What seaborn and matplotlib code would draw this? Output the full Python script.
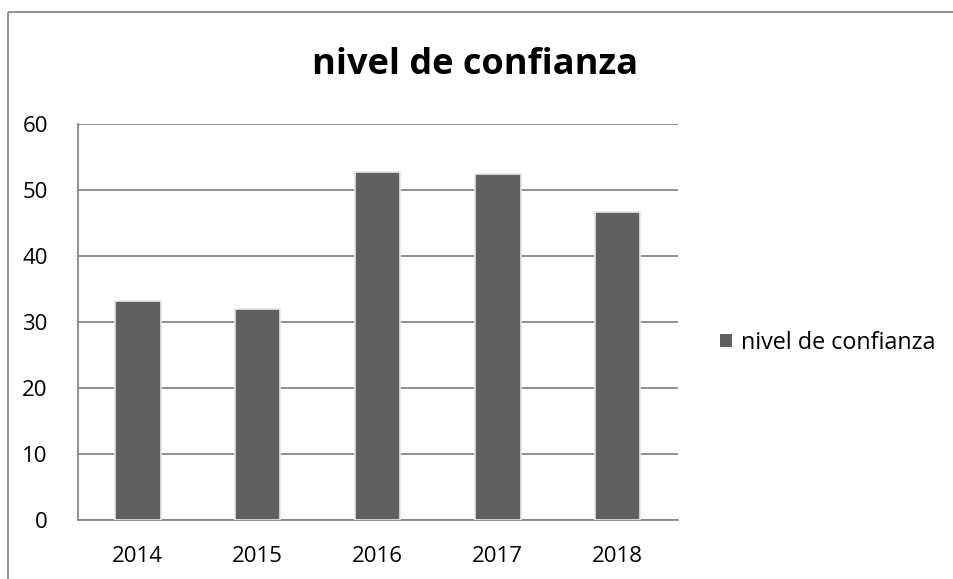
import numpy as np
import pandas as pd
import matplotlib
matplotlib.use("Agg")
import matplotlib.pyplot as plt
import seaborn as sns
from matplotlib.lines import Line2D
from matplotlib.patches import Patch

# Data
years = ["2014", "2015", "2016", "2017", "2018"]
values = [33.2, 32.0, 52.8, 52.4, 46.6]
series_name = "nivel de confianza"
y_ticks = [0, 10, 20, 30, 40, 50, 60]

df = pd.DataFrame({"year": years, "value": values})

sns.set_style("white")
plt.rcParams["font.family"] = ["Open Sans", "DejaVu Sans"]
plt.rcParams["text.color"] = "black"
plt.rcParams["xtick.color"] = "black"
plt.rcParams["ytick.color"] = "black"

bar_color = "#606060"
grid_color = "#888888"

fig = plt.figure(figsize=(9.54, 5.79), dpi=100)
fig.patch.set_facecolor("white")
fig.patch.set_edgecolor("white")
fig.patch.set_linewidth(0)
ax = fig.add_axes([77.7 / 954, 1 - 520 / 579, 600 / 954, 396 / 579])

sns.barplot(data=df, x="year", y="value", color=bar_color, width=0.38,
            saturation=1, ax=ax, zorder=3)

# bar outlines to mimic the soft light edge of the original
for p in ax.patches:
    p.set_edgecolor("#e8e8e8")
    p.set_linewidth(1.2)

ax.set_ylim(0, 60)
ax.set_xlim(-0.5, 4.5)
ax.set_yticks(y_ticks)
ax.yaxis.grid(True, color=grid_color, linewidth=1.3, zorder=0)
ax.set_axisbelow(True)
ax.set_xlabel("")
ax.set_ylabel("")

for side in ["top", "right"]:
    ax.spines[side].set_visible(False)
for side in ["left", "bottom"]:
    ax.spines[side].set_color(grid_color)
    ax.spines[side].set_linewidth(1.3)

# ticks at category boundaries on the x axis
ax.set_xticks(np.arange(-0.5, 5, 1), minor=True)
ax.tick_params(axis="x", which="major", length=0, pad=19, labelsize=16, labelcolor="black")
ax.tick_params(axis="x", which="minor", length=6.5, width=1.3, color=grid_color, direction="out")
ax.tick_params(axis="y", which="major", length=5.5, width=1.3, color=grid_color,
               direction="out", pad=16, labelsize=16, labelcolor="black")

fig.text(475 / 954, 1 - 65 / 579, series_name, ha="center", va="center",
         fontsize=26, fontweight="bold", color="black")

handle = Patch(facecolor=bar_color, edgecolor="none")
fig.legend([handle], [series_name], loc="center left",
           bbox_to_anchor=(720 / 954, 1 - 343 / 579), frameon=False,
           fontsize=16.8, handlelength=0.5, handleheight=0.5,
           handletextpad=0.4, borderpad=0, borderaxespad=0)

# outer chart border: only left and top edges are inside the picture
x0, y0 = 8 / 954, 1 - 12 / 579
fig.add_artist(Line2D([x0, x0], [-0.01, y0], transform=fig.transFigure,
                      color=grid_color, linewidth=1.3, solid_capstyle="butt"))
fig.add_artist(Line2D([x0, 1.01], [y0, y0], transform=fig.transFigure,
                      color=grid_color, linewidth=1.3, solid_capstyle="butt"))

fig.savefig("out.png", dpi=100, facecolor="white", edgecolor="white")
